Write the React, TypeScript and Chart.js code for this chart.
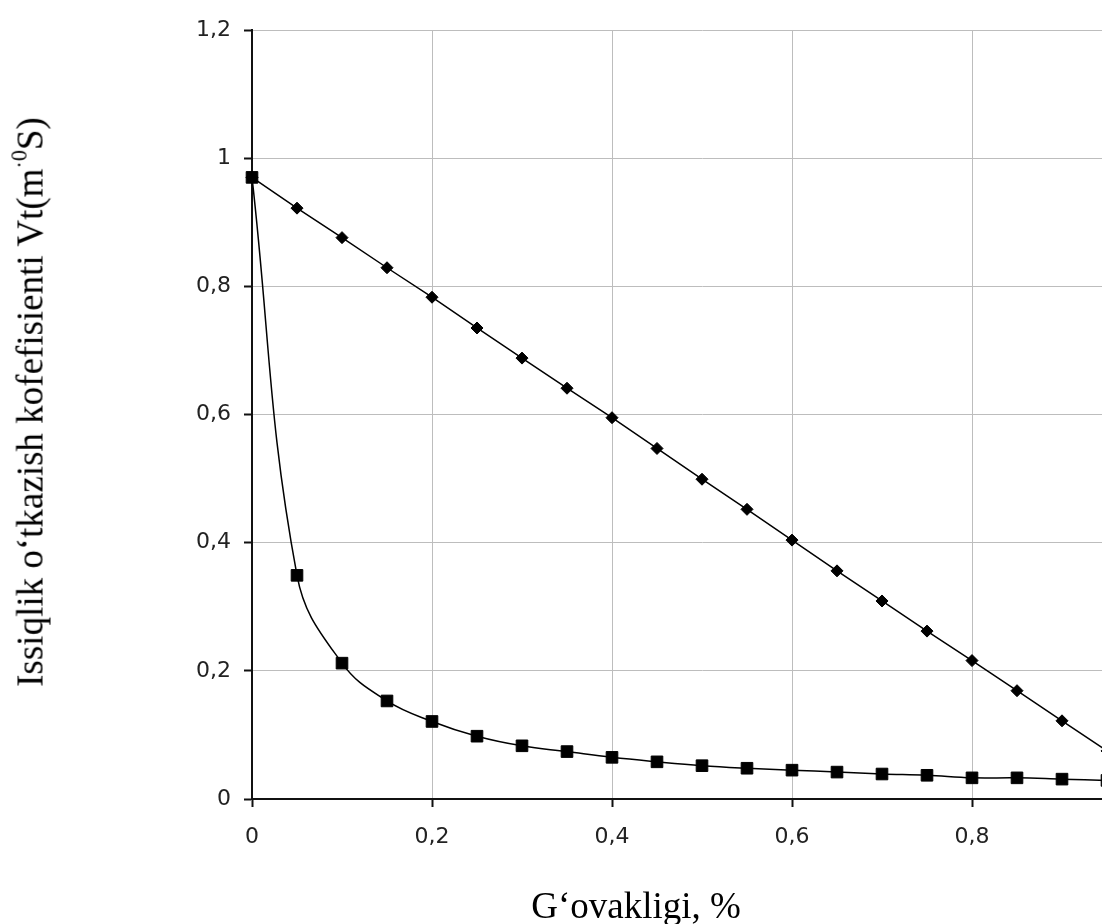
import React, { useEffect, useRef } from "react";
import { Chart, registerables } from "chart.js";

Chart.register(...registerables);

const xValues = [0, 0.05, 0.1, 0.15, 0.2, 0.25, 0.3, 0.35, 0.4, 0.45, 0.5, 0.55, 0.6, 0.65, 0.7, 0.75, 0.8, 0.85, 0.9, 0.95];
const linearSeries = [0.97, 0.922, 0.876, 0.829, 0.783, 0.735, 0.688, 0.641, 0.595, 0.547, 0.499, 0.452, 0.404, 0.356, 0.309, 0.262, 0.216, 0.169, 0.122, 0.075];
const curveSeries = [0.97, 0.349, 0.212, 0.153, 0.121, 0.098, 0.083, 0.074, 0.065, 0.058, 0.052, 0.048, 0.045, 0.042, 0.039, 0.037, 0.033, 0.033, 0.031, 0.029];
const xTicks = [0, 0.2, 0.4, 0.6, 0.8, 1];
const yTicks = [0, 0.2, 0.4, 0.6, 0.8, 1, 1.2];

const yTitle = "Issiqlik o‘tkazish kofefisienti Vt(m";
const yTitleSup = "·0";
const yTitleEnd = "S)";
const xTitle = "G‘ovakligi, %";

const fmt = (v: number) => (Math.round(v * 10) / 10).toString().replace(".", ",");

const CANVAS_W = 1192;
const CANVAS_H = 924;

export default function App() {
  const ref = useRef<HTMLCanvasElement | null>(null);

  useEffect(() => {
    if (!ref.current) return;
    const tickFont = { family: '"DejaVu Sans", "Liberation Sans", Arial, sans-serif', size: 22 };
    const chart = new Chart(ref.current, {
      type: "line",
      data: {
        datasets: [
          {
            label: "curve",
            data: xValues.map((x, i) => ({ x, y: curveSeries[i] })),
            borderColor: "#000",
            backgroundColor: "#000",
            borderWidth: 1.5,
            pointStyle: "rect",
            pointRadius: 8.2,
            pointBorderWidth: 1,
            pointBackgroundColor: "#000",
            pointBorderColor: "#000",
            tension: 0.4,
            clip: false,
            order: 0,
          },
          {
            label: "linear",
            data: xValues.map((x, i) => ({ x, y: linearSeries[i] })),
            borderColor: "#000",
            backgroundColor: "#000",
            borderWidth: 1.5,
            pointStyle: "rectRot",
            pointRadius: 6,
            pointBorderWidth: 1,
            pointBackgroundColor: "#000",
            pointBorderColor: "#000",
            tension: 0,
            clip: false,
            order: 1,
          },
        ],
      },
      options: {
        responsive: false,
        animation: false,
        events: [],
        layout: { padding: { left: 0, top: 30, right: 40, bottom: 0 } },
        plugins: { legend: { display: false }, tooltip: { enabled: false }, title: { display: false } },
        scales: {
          x: {
            type: "linear",
            min: 0,
            max: 1,
            afterBuildTicks: (scale: any) => {
              scale.ticks = xTicks.map((v) => ({ value: v }));
            },
            afterFit: (scale: any) => {
              scale.height = CANVAS_H - 799;
            },
            ticks: {
              callback: (v: any) => fmt(Number(v)),
              font: tickFont,
              color: "#222",
              padding: 17,
              maxRotation: 0,
              autoSkip: false,
            },
            grid: { color: "#bdbdbd", lineWidth: 1, tickLength: 8, tickColor: "#111", tickWidth: 2 },
            border: { color: "#111", width: 2 },
          },
          y: {
            type: "linear",
            min: 0,
            max: 1.2,
            afterBuildTicks: (scale: any) => {
              scale.ticks = yTicks.map((v) => ({ value: v }));
            },
            afterFit: (scale: any) => {
              scale.width = 252;
            },
            ticks: {
              callback: (v: any) => fmt(Number(v)),
              font: tickFont,
              color: "#222",
              padding: 13,
              autoSkip: false,
            },
            grid: { color: "#bdbdbd", lineWidth: 1, tickLength: 8, tickColor: "#111", tickWidth: 2 },
            border: { color: "#111", width: 2 },
          },
        },
      },
    } as any);
    return () => chart.destroy();
  }, []);

  const serif = '"Liberation Serif", "Times New Roman", serif';

  return (
    <div style={{ position: "fixed", left: 0, top: 0, width: 1102, height: 924, overflow: "hidden", background: "#fff" }}>
      <canvas
        ref={ref}
        width={CANVAS_W}
        height={CANVAS_H}
        style={{ position: "absolute", left: 0, top: 0, width: CANVAS_W, height: CANVAS_H }}
      />
      <div
        style={{
          position: "absolute",
          left: 30,
          top: 402,
          transform: "translate(-50%, -50%) rotate(-90deg)",
          fontFamily: serif,
          fontSize: 37,
          lineHeight: 1,
          whiteSpace: "nowrap",
          color: "#000",
        }}
      >
        {yTitle}
        <span style={{ fontSize: "0.6em", position: "relative", top: "-0.7em" }}>{yTitleSup}</span>
        {yTitleEnd}
      </div>
      <div
        style={{
          position: "absolute",
          left: 636,
          top: 887,
          transform: "translateX(-50%)",
          fontFamily: serif,
          fontSize: 37,
          lineHeight: 1,
          whiteSpace: "nowrap",
          color: "#000",
        }}
      >
        {xTitle}
      </div>
    </div>
  );
}
